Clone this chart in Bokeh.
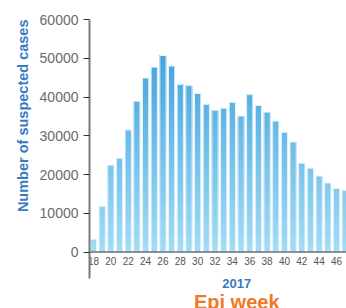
import numpy as np
from bokeh.plotting import figure
from bokeh.models import Range1d, FixedTicker, Span, Title
from bokeh.core.properties import value
from bokeh.embed import file_html
from bokeh.resources import INLINE

weeks = list(range(18, 48))
cases = [3300, 11800, 22400, 24200, 31500, 38900, 44900, 47700, 50700, 48000,
         43200, 42900, 40900, 38100, 36600, 37100, 38600, 35100, 40600, 37800,
         36100, 33800, 30900, 28400, 22900, 21600, 19600, 17800, 16400, 15900]
y_ticks = [0, 10000, 20000, 30000, 40000, 50000, 60000]
x_ticks = list(range(18, 47, 2))
x_tick_labels = [str(w) for w in x_ticks]
y_title = "Number of suspected cases"
year_label = "2017"
x_title = "Epi week"

p = figure(width=346, height=308, output_backend="svg", toolbar_location=None,
           x_range=Range1d(17.54, 47.15), y_range=Range1d(-14580, 60000),
           min_border_left=89, min_border_right=0, min_border_top=19,
           min_border_bottom=0)
p.outline_line_color = None
p.grid.visible = False
p.xaxis.visible = False

# gradient bars built from overlapping bands
c0 = np.array([0xa3, 0xdc, 0xf6])
c1 = np.array([0x45, 0xa3, 0xdc])
band = 2000
nb = 26
for k in range(nb):
    lo = k * band
    xs, tops = [], []
    for w, v in zip(weeks, cases):
        if v > lo:
            xs.append(w)
            tops.append(v)
    if not xs:
        continue
    t = min(1.0, (lo + band / 2) / 51000)
    col = c0 + (c1 - c0) * t
    hexc = "#%02x%02x%02x" % tuple(int(round(c)) for c in col)
    p.vbar(x=xs, top=tops, bottom=lo, width=0.72, fill_color=hexc,
           line_color=None)
p.vbar(x=weeks, top=cases, bottom=0, width=0.72, fill_color=None,
       line_color="#e6f5fc", line_width=1)

# y axis
ya = p.yaxis[0]
ya.ticker = FixedTicker(ticks=y_ticks)
ya.bounds = (-6760, 60000)
ya.axis_line_color = "#7a7a7a"
ya.axis_line_width = 2
ya.major_tick_line_color = "#333333"
ya.major_tick_out = 6
ya.major_tick_in = 0
ya.minor_tick_line_color = None
ya.major_label_text_font = "Liberation Sans"
ya.major_label_text_font_size = "14px"
ya.major_label_text_color = "#6b6b6b"
ya.major_label_standoff = 5

# x axis line at zero and tick labels
p.add_layout(Span(location=0, dimension="width", line_color="#6e6e6e",
                  line_width=1.5))
p.text(x=x_ticks, y=[0] * len(x_ticks), text=x_tick_labels, y_offset=5,
       text_font=value("Liberation Sans"), text_font_size="10px",
       text_color="#555555", text_align="center", text_baseline="top")
p.text(x=[34.5], y=[-8050], text=[year_label],
       text_font=value("Liberation Sans"), text_font_style="bold",
       text_font_size="13px", text_color="#3a7ac2",
       text_align="center", text_baseline="middle")
p.text(x=[34.5], y=[-12900], text=[x_title],
       text_font=value("Liberation Sans"), text_font_style="bold",
       text_font_size="20px", text_color="#f07a24",
       text_align="center", text_baseline="alphabetic")

p.add_layout(Title(text=y_title, align="right", text_font="Liberation Sans",
                   text_font_style="bold", text_font_size="14.5px",
                   text_color="#3a7ac2", standoff=11), "left")

open("out.html", "w").write(file_html(p, INLINE))
